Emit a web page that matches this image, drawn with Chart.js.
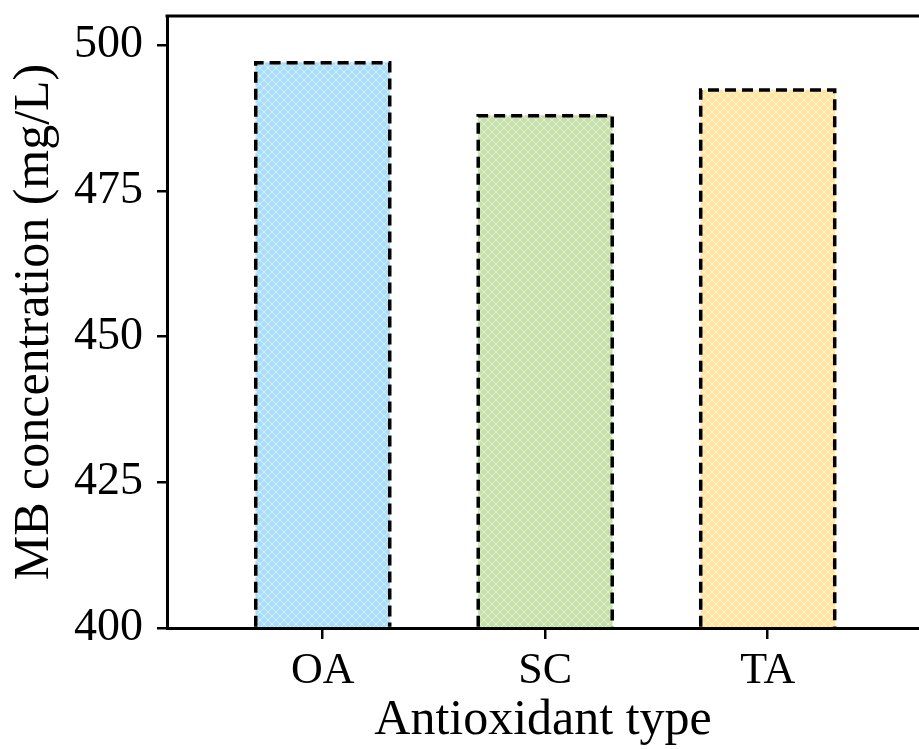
<!DOCTYPE html>
<html>
<head>
<meta charset="utf-8">
<script src="https://cdn.jsdelivr.net/npm/chart.js@4.4.1/dist/chart.umd.min.js"></script>
<style>
  html, body { margin: 0; padding: 0; background: #fff; overflow: hidden; }
  #wrap { width: 919px; height: 749px; }
</style>
</head>
<body>
<div id="wrap"><canvas id="barChart"></canvas></div>
<script>
// data
const categories = ['OA', 'SC', 'TA']
const mbValues = [497.0, 487.9, 492.3]
const barColors = ['#aaddf6', '#c6e0aa', '#fee6a2']
const yTicks = [400, 425, 450, 475, 500]
const yMin = 400
const yMax = 505

const serif = "'Liberation Serif', 'Times New Roman', serif"

// light crosshatch fill like the original
makeHatch = (color) => {
    const c = document.createElement('canvas')
    c.width = 8
    c.height = 8
    const ctx = c.getContext('2d')
    ctx.fillStyle = color
    ctx.fillRect(0, 0, 8, 8)
    ctx.strokeStyle = 'rgba(255,255,255,0.5)'
    ctx.lineWidth = 1
    ctx.beginPath()
    ctx.moveTo(0, 0); ctx.lineTo(8, 8)
    ctx.moveTo(0, 8); ctx.lineTo(8, 0)
    ctx.stroke()
    return ctx.createPattern(c, 'repeat')
}

// dashed outline on the bars (chart.js has no borderDash for bars)
const dashedBars = {
    id: 'dashedBars',
    afterDatasetsDraw(chart) {
        const ctx = chart.ctx
        const meta = chart.getDatasetMeta(0)
        ctx.save()
        ctx.strokeStyle = '#000'
        ctx.lineWidth = 3.5
        ctx.setLineDash([11, 6])
        meta.data.forEach((bar) => {
            const p = bar.getProps(['x', 'y', 'base', 'width'], true)
            const l = p.x - p.width / 2
            const r = p.x + p.width / 2
            ctx.beginPath()
            ctx.moveTo(l, p.base)
            ctx.lineTo(l, p.y)
            ctx.lineTo(r, p.y)
            ctx.lineTo(r, p.base)
            ctx.stroke()
        })
        ctx.restore()
    }
}

// top frame line
const topFrame = {
    id: 'topFrame',
    afterDraw(chart) {
        const { ctx, chartArea } = chart
        ctx.save()
        ctx.strokeStyle = '#000'
        ctx.lineWidth = 3
        ctx.beginPath()
        ctx.moveTo(chartArea.left - 1.5, chartArea.top)
        ctx.lineTo(chartArea.right + 2, chartArea.top)
        ctx.stroke()
        ctx.restore()
    }
}

function renderChart() {
    const canvas = document.querySelector('#barChart')
    const data = {
        datasets: [{
            data: categories.map((c, i) => ({ x: i, y: mbValues[i] })),
            backgroundColor: barColors.map(makeHatch),
            borderWidth: 0,
            barThickness: 134,
            base: yMin
        }]
    }
    const config = {
        type: 'bar',
        data: data,
        options: {
            responsive: true,
            maintainAspectRatio: false,
            animation: false,
            layout: { padding: { left: 0, right: 0, top: 16, bottom: 0 } },
            plugins: { legend: { display: false }, tooltip: { enabled: false } },
            scales: {
                x: {
                    type: 'linear',
                    offset: false,
                    min: -0.7,
                    max: 2.68,
                    afterBuildTicks: (axis) => {
                        axis.ticks = categories.map((c, i) => ({ value: i }))
                    },
                    ticks: {
                        callback: (v) => categories[v],
                        color: '#000',
                        font: { family: serif, size: 44, lineHeight: 1 },
                        padding: 10,
                        maxRotation: 0
                    },
                    grid: { offset: false, drawOnChartArea: false, drawTicks: true, tickLength: 11, color: '#000', lineWidth: 2.5 },
                    border: { display: true, color: '#000', width: 3 },
                    title: {
                        display: true,
                        text: 'Antioxidant type',
                        color: '#000',
                        font: { family: serif, size: 50, lineHeight: 0.7 },
                        padding: { top: 0, bottom: 11 }
                    }
                },
                y: {
                    min: yMin,
                    max: yMax,
                    afterBuildTicks: (axis) => {
                        axis.ticks = yTicks.map((v) => ({ value: v }))
                    },
                    afterFit: (axis) => {
                        // labels sit well inside the range, no extra room needed
                        axis.paddingTop = 0
                        axis.paddingBottom = 0
                    },
                    ticks: {
                        color: '#000',
                        font: { family: serif, size: 46 },
                        padding: 14
                    },
                    grid: { drawOnChartArea: false, drawTicks: true, tickLength: 10, color: '#000', lineWidth: 2.5 },
                    border: { display: true, color: '#000', width: 3 },
                    title: {
                        display: true,
                        text: 'MB concentration (mg/L)',
                        color: '#000',
                        font: { family: serif, size: 50, lineHeight: 1 },
                        padding: { top: 10, bottom: 0 }
                    }
                }
            }
        },
        plugins: [dashedBars, topFrame]
    }
    new Chart(canvas, config)
}

document.addEventListener('DOMContentLoaded', () => {
    renderChart()
})
</script>
</body>
</html>
